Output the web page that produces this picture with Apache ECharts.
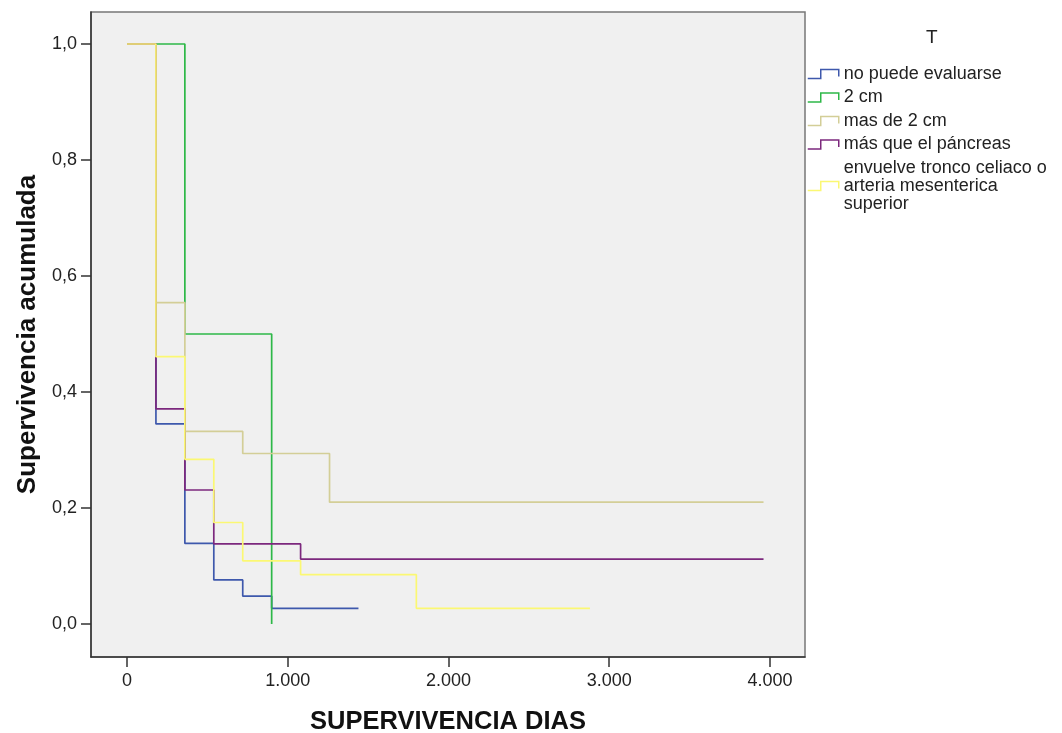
<!DOCTYPE html>
<html>
<head>
<meta charset="utf-8">
<title>Supervivencia acumulada</title>
<script src="https://cdn.jsdelivr.net/npm/echarts@6/dist/echarts.min.js"></script>
<style>
  html, body { margin: 0; padding: 0; background: #fff; }
  #chart { width: 1062px; height: 733px; }
</style>
</head>
<body>
<div id="chart"></div>
<script>
// tiempos (dias) y supervivencia acumulada por grupo T
var nombres = ['no puede evaluarse', '2 cm', 'mas de 2 cm', 'más que el páncreas',
    'envuelve tronco celiaco o\narteria mesenterica\nsuperior'];
var colores = ['#3E58AC', '#2EB848', '#D3CE97', '#7C287D', '#FBF873'];

var tNoEval = [0, 180, 360, 540, 720, 900, 1440];
var sNoEval = [1, 0.345, 0.139, 0.076, 0.048, 0.027, 0.027];

var t2cm = [0, 360, 900];
var s2cm = [1, 0.5, 0];

var tMas2cm = [0, 180, 360, 720, 1260, 3960];
var sMas2cm = [1, 0.554, 0.332, 0.294, 0.210, 0.210];

var tPancreas = [0, 180, 360, 540, 1080, 3960];
var sPancreas = [1, 0.371, 0.231, 0.138, 0.112, 0.112];

var tTronco = [0, 180, 360, 540, 720, 1080, 1800, 2880];
var sTronco = [1, 0.461, 0.284, 0.175, 0.109, 0.085, 0.027, 0.027];

var xTicks = [0, 1000, 2000, 3000, 4000];
var yTicks = [0, 0.2, 0.4, 0.6, 0.8, 1.0];

var tiempos = [tNoEval, t2cm, tMas2cm, tPancreas, tTronco];
var superv = [sNoEval, s2cm, sMas2cm, sPancreas, sTronco];

var fuente = "'Liberation Sans', Arial, sans-serif";

var series = nombres.map(function (n, i) {
    return {
        name: n,
        type: 'line',
        step: 'end',
        showSymbol: false,
        symbol: 'none',
        lineStyle: { color: colores[i], width: 1.7 },
        itemStyle: { color: colores[i] },
        data: tiempos[i].map(function (t, k) { return [t, superv[i][k]]; })
    };
});

var myChart = echarts.init(document.getElementById('chart'));

var option = {
    animation: false,
    backgroundColor: '#fff',
    title: {
        text: 'T',
        left: 926,
        top: 28,
        padding: 0,
        textStyle: { fontFamily: fuente, fontSize: 19, fontWeight: 'normal', color: '#222' }
    },
    legend: {
        orient: 'vertical',
        left: 807,
        top: 65,
        padding: 0,
        itemGap: 5.5,
        itemWidth: 31,
        itemHeight: 9,
        symbolKeepAspect: false,
        icon: 'path://M0,9L13,9L13,0L31,0L31,7',
        textStyle: { fontFamily: fuente, fontSize: 18, lineHeight: 18, color: '#222' },
        data: nombres.map(function (n, i) {
            return {
                name: n,
                itemStyle: { color: 'transparent', borderColor: colores[i], borderWidth: 1.5 }
            };
        })
    },
    grid: {
        left: 91,
        top: 12,
        right: 257,
        bottom: 76,
        outerBoundsMode: 'none',
        containLabel: false,
        show: true,
        backgroundColor: '#f0f0f0',
        borderColor: '#777',
        borderWidth: 1.5
    },
    xAxis: {
        type: 'value',
        min: -224,
        max: 4218,
        name: 'SUPERVIVENCIA DIAS',
        nameLocation: 'middle',
        nameGap: 52,
        nameTextStyle: { fontFamily: fuente, fontSize: 25.5, fontWeight: 'bold', color: '#111' },
        axisLine: { onZero: false, lineStyle: { color: '#333', width: 1.5 } },
        axisTick: { customValues: xTicks, length: 10, lineStyle: { color: '#333', width: 1.5 } },
        axisLabel: {
            customValues: xTicks,
            margin: 15,
            fontFamily: fuente,
            fontSize: 18,
            color: '#222',
            formatter: function (v) { return v === 0 ? '0' : (v / 1000) + '.000'; }
        },
        splitLine: { show: false }
    },
    yAxis: {
        type: 'value',
        min: -0.0569,
        max: 1.0552,
        name: 'Supervivencia acumulada',
        nameLocation: 'middle',
        nameGap: 50,
        nameTextStyle: { fontFamily: fuente, fontSize: 26, fontWeight: 'bold', color: '#111' },
        axisLine: { show: true, onZero: false, lineStyle: { color: '#333', width: 1.5 } },
        axisTick: { show: true, customValues: yTicks, length: 10, lineStyle: { color: '#333', width: 1.5 } },
        axisLabel: {
            customValues: yTicks,
            margin: 14,
            fontFamily: fuente,
            fontSize: 18,
            color: '#222',
            formatter: function (v) { return v.toFixed(1).replace('.', ','); }
        },
        splitLine: { show: false }
    },
    series: series
};

myChart.setOption(option, true);
</script>
</body>
</html>
